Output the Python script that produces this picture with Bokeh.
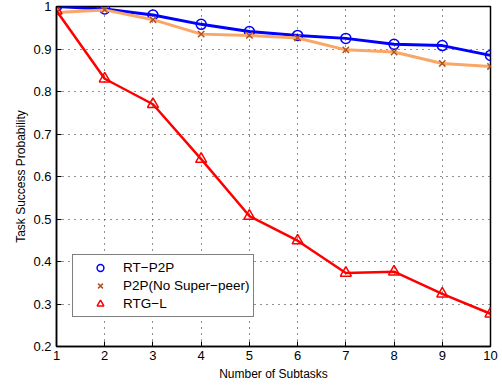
from bokeh.plotting import figure
from bokeh.models import Range1d, FixedTicker, Legend, LegendItem
from bokeh.embed import file_html
from bokeh.resources import INLINE

subtasks = [1, 2, 3, 4, 5, 6, 7, 8, 9, 10]
rt_p2p = [1.000, 0.994, 0.980, 0.958, 0.941, 0.932, 0.925, 0.911, 0.908, 0.885]
p2p_no_super = [0.986, 0.992, 0.969, 0.935, 0.932, 0.926, 0.898, 0.893, 0.866, 0.859]
rtg_l = [0.990, 0.830, 0.770, 0.641, 0.507, 0.449, 0.373, 0.376, 0.324, 0.277]
x_ticks = [1, 2, 3, 4, 5, 6, 7, 8, 9, 10]
y_ticks = [0.2, 0.3, 0.4, 0.5, 0.6, 0.7, 0.8, 0.9, 1.0]

FONT = "Liberation Sans"

p = figure(width=498, height=383, output_backend="svg", toolbar_location=None,
           x_range=Range1d(1, 10), y_range=Range1d(0.2, 1.0),
           min_border_left=56, min_border_right=8, min_border_top=6, min_border_bottom=36)
p.background_fill_color = "white"
p.border_fill_color = "white"
p.outline_line_color = "black"
p.outline_line_width = 1.5

p.xaxis.ticker = FixedTicker(ticks=x_ticks)
p.yaxis.ticker = FixedTicker(ticks=y_ticks)
p.yaxis.major_label_overrides = {1.0: "1"}
for ax in (p.xaxis[0], p.yaxis[0]):
    ax.major_tick_in = 5
    ax.major_tick_out = 0
    ax.minor_tick_in = 0
    ax.minor_tick_out = 0
    ax.axis_line_color = "black"
    ax.axis_line_width = 1.5
    ax.major_tick_line_color = "black"
    ax.major_label_text_font = FONT
    ax.major_label_text_font_size = "13px"
    ax.major_label_text_color = "black"
    ax.axis_label_text_font = FONT
    ax.axis_label_text_font_size = "12px"
    ax.axis_label_text_font_style = "normal"
    ax.axis_label_text_color = "black"
p.xaxis.major_label_standoff = 4
p.yaxis.major_label_standoff = 5
p.xaxis.axis_label = "Number of Subtasks"
p.yaxis.axis_label = "Task Success Probability"
p.xaxis.axis_label_standoff = 4
p.yaxis.axis_label_standoff = 2

for g in (p.xgrid[0], p.ygrid[0]):
    g.grid_line_color = "#222222"
    g.grid_line_dash = "1 5"
    g.grid_line_width = 1

l1 = p.line(subtasks, rt_p2p, line_color="#0000FF", line_width=3)
m1 = p.scatter(subtasks, rt_p2p, marker="circle", size=10, line_color="#0000FF",
               fill_color=None, line_width=1.5)
l2 = p.line(subtasks, p2p_no_super, line_color="#F9A766", line_width=3)
m2 = p.scatter(subtasks, p2p_no_super, marker="x", size=9, line_color="#B5541E", line_width=1.5)
l3 = p.line(subtasks, rtg_l, line_color="#FF0000", line_width=2.5)
m3 = p.scatter(subtasks, rtg_l, marker="triangle", size=11, line_color="#FF0000",
               fill_color=None, line_width=1.5)

legend = Legend(items=[
    LegendItem(label="RT\u2212P2P", renderers=[m1]),
    LegendItem(label="P2P(No Super\u2212peer)", renderers=[m2]),
    LegendItem(label="RTG\u2212L", renderers=[m3]),
], location=(16, 29))
legend.label_text_font = FONT
legend.label_text_font_size = "13.5px"
legend.label_text_color = "black"
legend.label_height = 17
legend.glyph_height = 17
legend.glyph_width = 46
legend.label_standoff = 0
legend.spacing = 1
legend.padding = 4
legend.margin = 0
legend.border_line_color = "black"
legend.border_line_width = 1.5
legend.background_fill_alpha = 1
p.add_layout(legend, "center")

open("out.html", "w").write(file_html(p, INLINE))
